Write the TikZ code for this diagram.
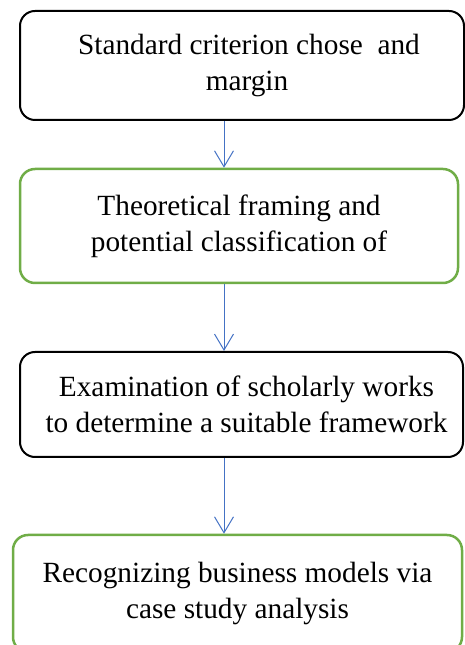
\documentclass[tikz,border=0pt]{standalone}
\usepackage{fontspec}
\setmainfont{Liberation Serif}
\usetikzlibrary{positioning, arrows.meta}

\definecolor{stepgreen}{HTML}{70AD47}
\definecolor{arrowblue}{HTML}{4472C4}

\begin{document}
\begin{tikzpicture}[x=1pt, y=1pt, every node/.style={font=\fontsize{29.3}{36}\selectfont}]
  % Styles
  \tikzset{
    blackbox/.style={rectangle, rounded corners=15pt, draw=black, line width=2pt, align=center, inner sep=0pt},
    greenbox/.style={rectangle, rounded corners=15pt, draw=stepgreen, line width=2.5pt, align=center, inner sep=0pt},
    flow/.style={-{Straight Barb[length=16pt, width=19pt]}, draw=arrowblue, line width=1pt}
  }

  % Page
  \useasboundingbox (0,0) rectangle (465,645);
  \clip (0,0) rectangle (465,645);

  % Steps
  \node[blackbox, minimum width=444pt, minimum height=109pt] (criterion) at (242,579.5) {\hspace*{14pt}Standard criterion chose~ and\\\hspace*{10pt}margin};
  \node[greenbox, minimum width=438pt, minimum height=114pt] (framing) at (239,419) {Theoretical framing and\\potential classification of};
  \node[blackbox, minimum width=443pt, minimum height=105pt] (scholarly) at (241.5,240.5) {\hspace*{10pt}Examination of scholarly works\\\hspace*{10pt}to determine a suitable framework};
  \node[greenbox, minimum width=449pt, minimum height=117pt] (casestudy) at (237.5,51.5) {Recognizing business models via\\case study analysis};

  % Arrows
  \coordinate (axis) at (224,0);
  \draw[flow] (criterion.south -| axis) -- (framing.north -| axis);
  \draw[flow] (framing.south -| axis) -- (scholarly.north -| axis);
  \draw[flow] (scholarly.south -| axis) -- (casestudy.north -| axis);

\end{tikzpicture}
\end{document}
